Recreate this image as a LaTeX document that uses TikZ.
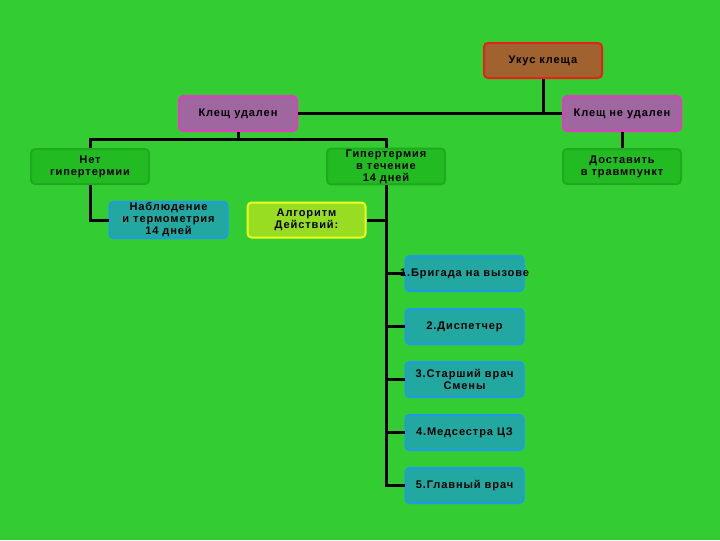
\documentclass[tikz,border=0pt]{standalone}
\usepackage{fontspec}
\setmainfont{Liberation Sans}[LetterSpace=8]
\usepackage{xcolor}

\definecolor{bggreen}{HTML}{33CC33}
\definecolor{brownfill}{HTML}{A0622E}
\definecolor{redline}{HTML}{E8201C}
\definecolor{purplefill}{HTML}{A066A0}
\definecolor{pinkline}{HTML}{E43CC0}
\definecolor{greenfill}{HTML}{22BB22}
\definecolor{greenline}{HTML}{1DAA1D}
\definecolor{tealfill}{HTML}{22A8A0}
\definecolor{blueline}{HTML}{1E9AE6}
\definecolor{limefill}{HTML}{99DD22}
\definecolor{yellowline}{HTML}{EEFF22}

\begin{document}
\begin{tikzpicture}[x=0.75pt,y=0.75pt,yscale=-1,xscale=1,
		box/.style={draw, line width=1.5pt, rounded corners=3pt, minimum width=88.5pt, minimum height=26.25pt,
			inner sep=0.75pt, align=center, font=\fontsize{8.3}{9}\selectfont\bfseries},
		brownbox/.style={box, fill=brownfill, draw=redline},
		purplebox/.style={box, fill=purplefill, draw=pinkline},
		greenbox/.style={box, fill=greenfill, draw=greenline},
		tealbox/.style={box, fill=tealfill, draw=blueline},
		limebox/.style={box, fill=limefill, draw=yellowline},
		link/.style={draw=black, line width=2.25pt}]
			%set diagram to 720 x 540
			\fill[bggreen] (0,0) rectangle (720,540);
			\useasboundingbox (0,0) rectangle (720,540);
			
			%Top row
			\node [brownbox] (ukus) at (543,60.5) {Укус клеща};
			\node [purplebox] (udalen) at (238,113.5) {Клещ удален};
			\node [purplebox] (neudalen) at (622,113.5) {Клещ не удален};
			
			%Second row
			\node [greenbox] (net) at (90,166.5) {Нет\\гипертермии};
			\node [greenbox] (giper) at (386,166.5) {Гипертермия\\в течение\\14 дней};
			\node [greenbox] (dostavit) at (622,166.5) {Доставить\\в травмпункт};
			
			%Third row
			\node [tealbox] (nabl) at (168.5,220) {Наблюдение\\и термометрия\\14 дней};
			\node [limebox] (algo) at (306.5,220) {Алгоритм\\Действий:};
			
			%Steps
			\node [tealbox] (s1) at (464.5,273.5) {\makebox[0pt]{1.Бригада на вызове}};
			\node [tealbox] (s2) at (464.5,326.5) {2.Диспетчер};
			\node [tealbox] (s3) at (464.5,379.5) {3.Старший врач\\Смены};
			\node [tealbox] (s4) at (464.5,432.5) {4.Медсестра ЦЗ};
			\node [tealbox] (s5) at (464.5,485.5) {5.Главный врач};
			
			%Connectors
			\coordinate (split) at (238,139);
			\path [link] (ukus.south) -- (ukus.south |- neudalen.west);
			\path [link] (udalen.east) -- (neudalen.west);
			\path [link] (udalen.south) -- (split);
			\path [link] (net.north) |- (split) -| (giper.north);
			\path [link] (neudalen.south) -- (dostavit.north);
			\path [link] (net.south) |- (nabl.west);
			\path [link] (giper.south) |- (s5.west);
			\path [link] (algo.east) -- (algo.east -| giper.south);
			\foreach \s in {s1,s2,s3,s4}
				\path [link] (\s.west) -- (\s.west -| giper.south);
					
		\end{tikzpicture}
\end{document}
